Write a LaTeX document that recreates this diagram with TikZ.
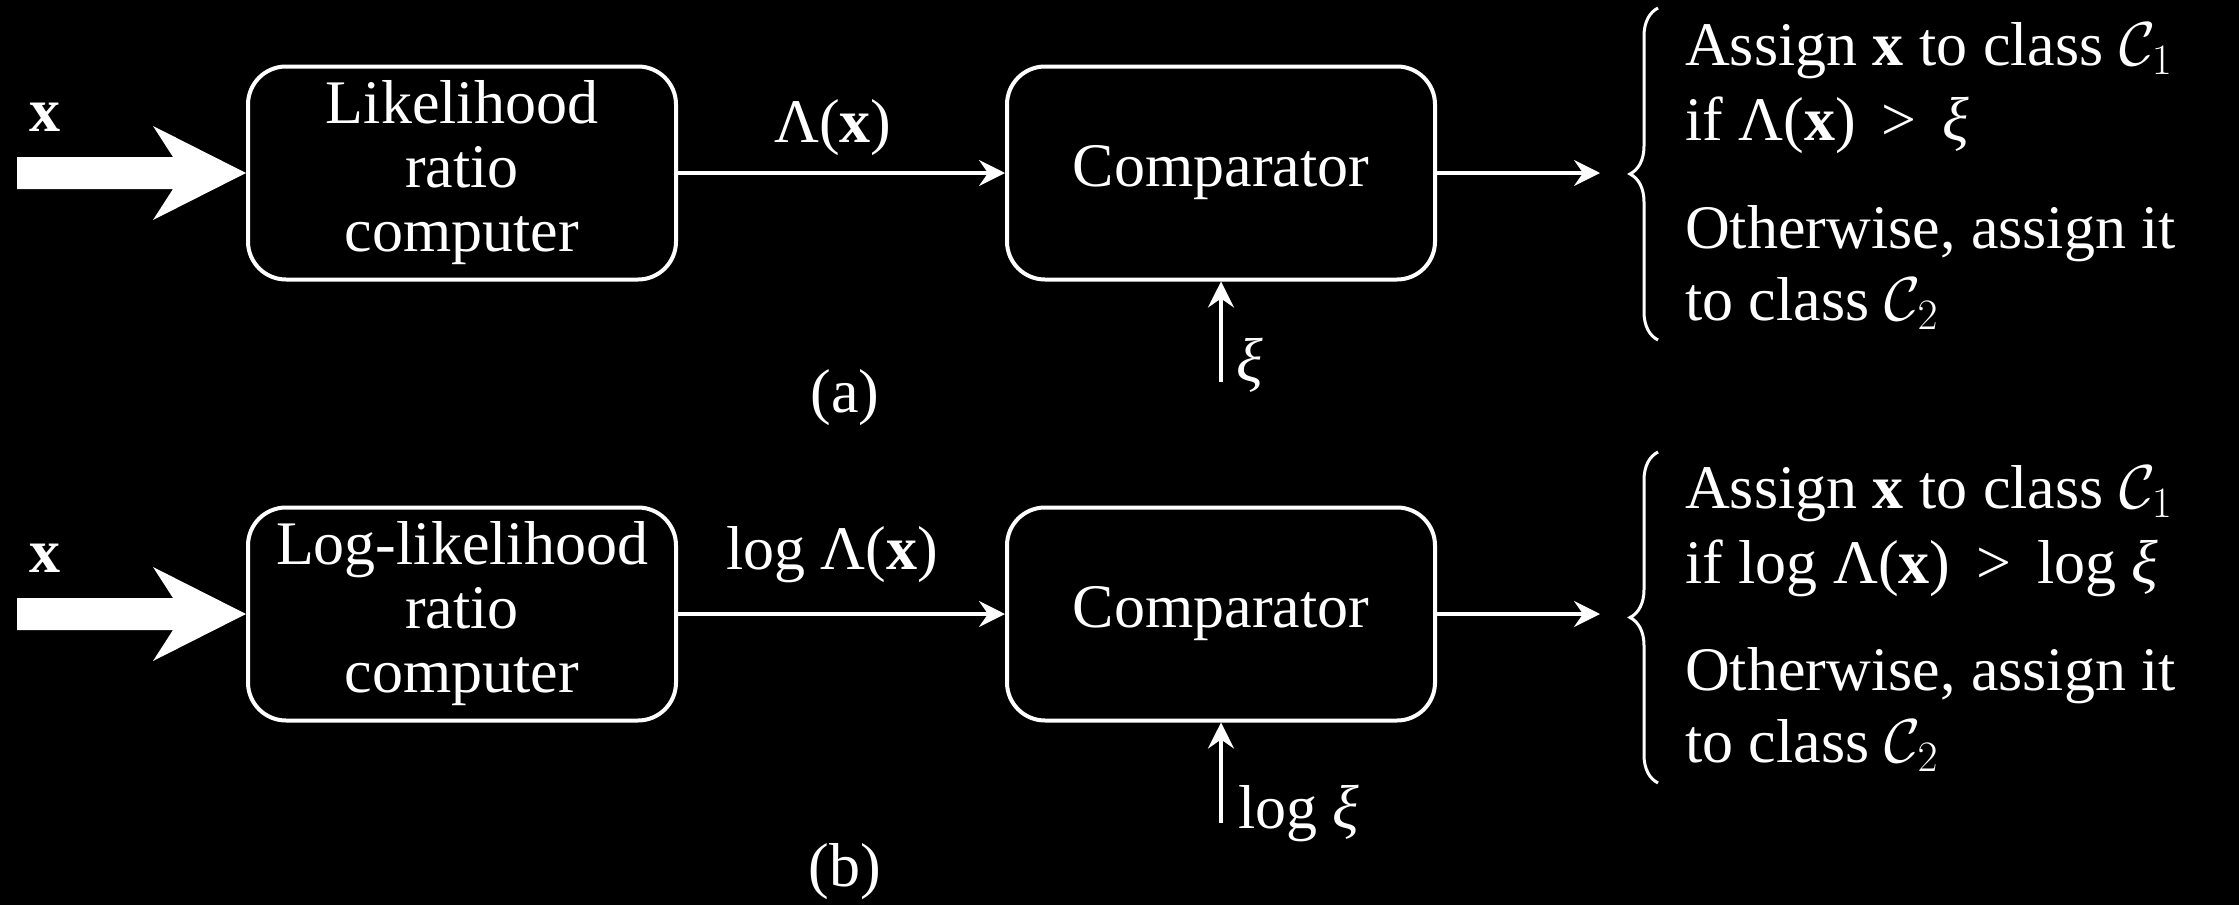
\RequirePackage{fix-cm}
\documentclass[tikz,border=0pt]{standalone}
\usepackage{fontspec}
\setmainfont{Liberation Serif}
\usetikzlibrary{arrows.meta,decorations.pathreplacing}
\begin{document}
\begin{tikzpicture}[x=1pt,y=-1pt,
  every node/.style={text=white, font=\fontsize{62}{64}\selectfont, inner sep=0pt},
  blk/.style={draw=white, line width=4pt, rounded corners=38pt, minimum width=428pt, minimum height=213pt, align=center},
  conn/.style={draw=white, line width=3.5pt, -{Stealth[length=26pt,width=26pt,inset=9pt]}},
  brc/.style={draw=white, line width=3pt, decorate, decoration={brace,amplitude=28pt}},
  lbl/.style={anchor=base west}]
\fill[black] (0,0) rectangle (2239,905);
\useasboundingbox (0,0) rectangle (2239,905);
% blocks
\node[blk] (L1) at (462,173) {Likelihood\\ratio\\computer};
\node[blk] (C1) at (1221,173) {Comparator};
\node[blk] (L2) at (462,614) {Log-likelihood\\ratio\\computer};
\node[blk] (C2) at (1221,614) {Comparator};
% labels
\node (lam1) at (833,128) {Λ(\textbf{x})};
\node (lam2) at (832,555) {log Λ(\textbf{x})};
\node (x1) at (45,117) {\textbf{x}};
\node (x2) at (45,558) {\textbf{x}};
\node[anchor=base west] (xi1) at (1236,381) {\textit{ξ}};
\node[anchor=base west] (xi2) at (1238,828) {log \textit{ξ}};
\node (capa) at (845,398) {(a)};
\node (capb) at (845,872) {(b)};
% coordinates
\coordinate (o1) at (1600,173);
\coordinate (o2) at (1600,614);
\coordinate (t1) at (1221,382);
\coordinate (t2) at (1221,823);
% connectors
\draw[conn] (L1.east) -- (C1.west);
\draw[conn] (C1.east) -- (o1);
\draw[conn] (t1) -- (C1.south);
\draw[conn] (L2.east) -- (C2.west);
\draw[conn] (C2.east) -- (o2);
\draw[conn] (t2) -- (C2.south);
% big input arrows
\fill[white,shift={(L1.west)}] (-229,-16) -- (-73,-16) -- (-93,-47) -- (0,0) -- (-93,47) -- (-73,16) -- (-229,16) -- cycle;
\fill[white,shift={(L2.west)}] (-229,-16) -- (-73,-16) -- (-93,-47) -- (0,0) -- (-93,47) -- (-73,16) -- (-229,16) -- cycle;
% braces
\draw[brc] (1658,340) -- (1658,8);
\draw[brc] (1658,783) -- (1658,452);
% decision text
\node[lbl] (r11) at (1685,65) {Assign \textbf{x} to class $\mathcal{C}_1$};
\node[lbl] (r12) at (1685,140) {if Λ(\textbf{x})\, >\, \textit{ξ}};
\node[lbl] (r13) at (1685,248) {Otherwise, assign it};
\node[lbl] (r14) at (1685,320) {to class $\mathcal{C}_2$};
\node[lbl] (r21) at (1685,508) {Assign \textbf{x} to class $\mathcal{C}_1$};
\node[lbl] (r22) at (1685,583) {if log Λ(\textbf{x})\, >\, log \textit{ξ}};
\node[lbl] (r23) at (1685,690) {Otherwise, assign it};
\node[lbl] (r24) at (1685,762) {to class $\mathcal{C}_2$};
\end{tikzpicture}
\end{document}
